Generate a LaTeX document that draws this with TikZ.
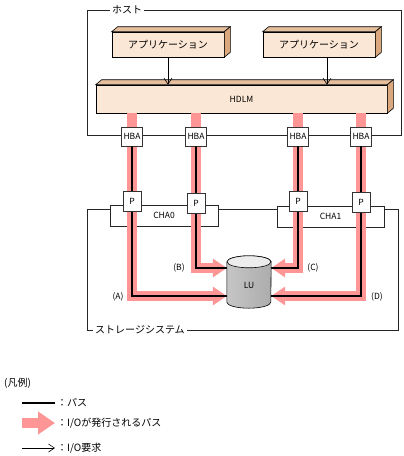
\documentclass[tikz,border=0pt]{standalone}
\usepackage{fontspec}
\setmainfont{Noto Sans CJK JP}
\usetikzlibrary{arrows.meta,positioning,calc}
\definecolor{appfront}{RGB}{250,231,213}
\definecolor{appside}{RGB}{219,168,125}
\definecolor{iopink}{RGB}{255,150,150}
\tikzset{
  jp/.style={font=\fontsize{10}{12}\selectfont},
  lat/.style={font=\fontsize{8.5}{10}\selectfont},
}
% top and side faces of a solid box
\newcommand\solidfaces[1]{%
  \filldraw[fill=appside!75!white, line width=0.6pt] (#1.north west) -- ++(6,-5) -- ($(#1.north east)+(6,-5)$) -- (#1.north east) -- cycle;
  \filldraw[fill=appside, line width=0.6pt] (#1.north east) -- ++(6,-5) -- ($(#1.south east)+(6,-5)$) -- (#1.south east) -- cycle;
}

\begin{document}
\begin{tikzpicture}[
  x=1pt, y=-1pt,
  frame/.style={draw=black!85, line width=0.5pt},
  framelabel/.style={fill=white, inner sep=2pt, anchor=west, jp},
  app/.style={draw, fill=appfront, line width=0.6pt, minimum width=112pt, minimum height=25pt, inner sep=0pt, jp},
  port/.style={draw=black!80, fill=white, line width=0.6pt, minimum width=21pt, minimum height=19pt, inner sep=0pt, lat},
  cha/.style={draw=black!85, line width=0.6pt, minimum width=108pt, minimum height=21pt, inner sep=0pt, lat},
  iopath/.style={draw=iopink, line width=10pt, line join=miter, -{Triangle[length=14pt,width=18pt]}},
  pathline/.style={draw=black, line width=1.2pt},
  req/.style={-{Straight Barb[length=6pt,width=8pt]}, line width=0.6pt},
]
\useasboundingbox (0,0) rectangle (404,456);

% Host
\draw[frame] (87,10) rectangle (401,135);
\node[framelabel] (host) at (110,10) {ホスト};
\node[app] (app1) at (168,44.5) {アプリケーション};
\node[app] (app2) at (319,44.5) {アプリケーション};
\solidfaces{app1}
\solidfaces{app2}
\node[app, minimum width=291pt, minimum height=28pt, lat] (hdlm) at (241.5,99) {HDLM};
\solidfaces{hdlm}
\draw[req] (app1.south) -- (app1.south |- hdlm.north);
\draw[req] ($(app2.south)+(8,0)$) -- ($(app2.south |- hdlm.north)+(8,0)$);

% Storage system
\node[cha] (cha0) at (164,215.5) {CHA0};
\node[cha, minimum width=107pt] (cha1) at (330.5,216.5) {CHA1};
\coordinate (stl) at (87,209);
\coordinate (sbr) at (398,330);
\draw[frame] (cha0.west |- stl) -- (stl) |- (sbr) |- (cha1.east |- stl);
\draw[frame] (cha0.east |- stl) -- (cha1.west |- stl);
\node[framelabel] (storage) at (93,330) {ストレージシステム};

% LU
\node[minimum width=44pt, minimum height=52pt, inner sep=0pt] (lu) at (249,282) {};
\coordinate (luA) at ($(lu.west)+(0,14)$);
\coordinate (luB) at ($(lu.west)+(0,-14)$);
\coordinate (luC) at ($(lu.east)+(0,-14)$);
\coordinate (luD) at ($(lu.east)+(0,14)$);

% HBA / P columns
\coordinate (colA) at (132,0);
\coordinate (colB) at (196,0);
\coordinate (colC) at (298,0);
\coordinate (colD) at (361,0);

% I/O paths
\draw[iopath] (colA |- hdlm.south) |- (luA);
\draw[iopath] (colB |- hdlm.south) |- (luB);
\draw[iopath] (colC |- hdlm.south) |- (luC);
\draw[iopath] (colD |- hdlm.south) |- (luD);

\node[port] (hbaA) at (colA |- 0,136.5) {HBA};
\node[port] (hbaB) at (colB |- 0,136.5) {HBA};
\node[port] (hbaC) at (colC |- 0,136.5) {HBA};
\node[port] (hbaD) at (colD |- 0,136.5) {HBA};

\draw[pathline] (hbaA.south) |- (luA);
\draw[pathline] (hbaB.south) |- (luB);
\draw[pathline] (hbaC.south) |- (luC);
\draw[pathline] (hbaD.south) |- (luD);

\node[port, minimum width=18pt, minimum height=20pt] (pA) at (colA |- 0,201) {P};
\node[port, minimum width=18pt, minimum height=20pt] (pB) at (colB |- 0,203) {P};
\node[port, minimum width=18pt, minimum height=20pt] (pC) at (colC |- 0,201.5) {P};
\node[port, minimum width=18pt, minimum height=20pt] (pD) at (colD |- 0,202) {P};

% cylinder of the LU
\shade[left color=gray!45, middle color=white, right color=gray!65, draw=black, line width=0.6pt]
  ($(lu.north west)+(0,6)$) -- ($(lu.south west)+(0,-6)$)
  arc[start angle=180, end angle=360, x radius=22pt, y radius=6pt]
  -- ($(lu.north east)+(0,6)$)
  arc[start angle=0, end angle=180, x radius=22pt, y radius=6pt] -- cycle;
\filldraw[fill=gray!15, line width=0.6pt] ($(lu.north)+(0,6)$) ellipse[x radius=22pt, y radius=6pt];
\node[lat] (lulabel) at ($(lu.center)+(0,3)$) {LU};

\node[lat] (labA) at (118,297) {(A)};
\node[lat] (labB) at (179,268) {(B)};
\node[lat] (labC) at (313,268) {(C)};
\node[lat] (labD) at (377,297) {(D)};

% Legend
\node[jp, anchor=west, inner sep=0pt] (legend) at (4,383) {(凡例)};
\coordinate (lg1s) at (22,403);
\coordinate (lg1e) at (55,403);
\coordinate (lg2s) at (22,423);
\coordinate (lg2e) at (55,423);
\coordinate (lg3s) at (22,448);
\coordinate (lg3e) at (55,448);
\draw[pathline] (lg1s) -- (lg1e);
\draw[iopath, -{Triangle[length=17pt,width=22pt]}] (lg2s) -- (lg2e);
\draw[req] (lg3s) -- (lg3e);
\node[jp, anchor=west, inner sep=0pt] (lgt1) at (57,403) {：パス};
\node[jp, anchor=west, inner sep=0pt] (lgt2) at (57,423) {：I/Oが発行されるパス};
\node[jp, anchor=west, inner sep=0pt] (lgt3) at (57,448) {：I/O要求};

\end{tikzpicture}
\end{document}
